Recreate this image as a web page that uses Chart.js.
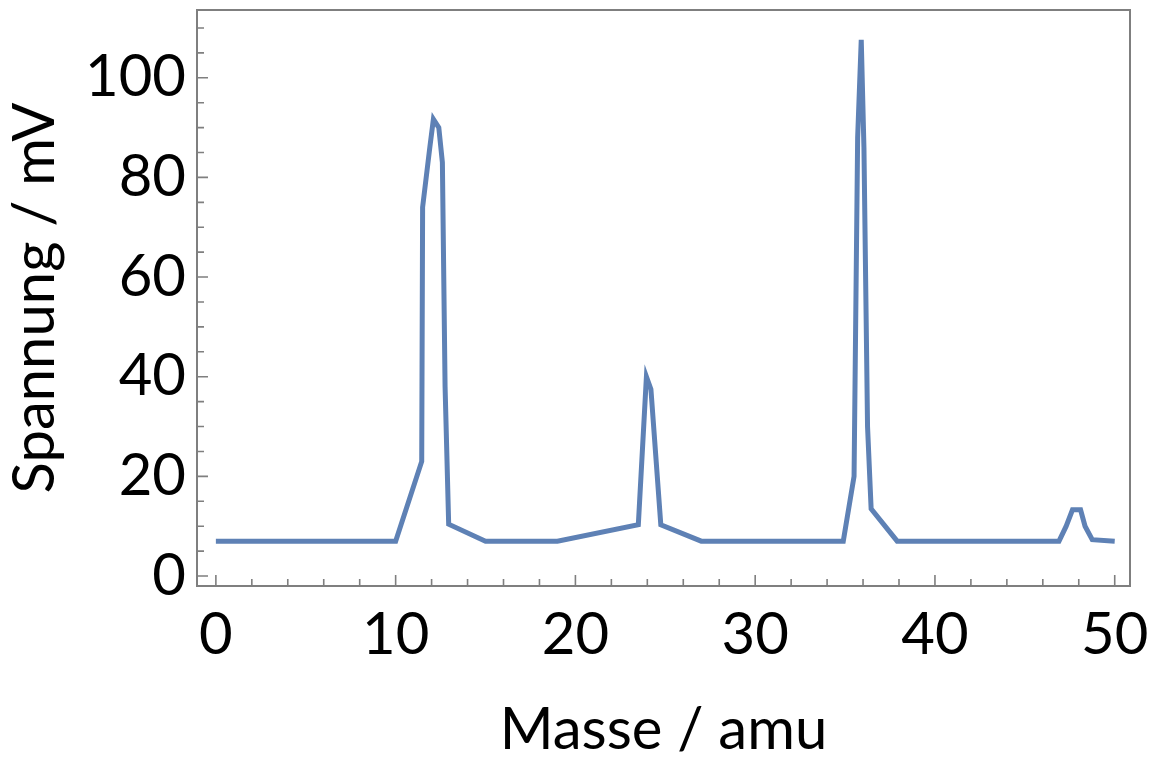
<!DOCTYPE html>
<html>
<head>
<meta charset="utf-8">
<script src="https://cdn.jsdelivr.net/npm/chart.js@4/dist/chart.umd.min.js"></script>
<style>
  html, body { margin: 0; padding: 0; background: #ffffff; }
  #wrap { width: 1152px; height: 765px; }
</style>
</head>
<body>
<div id="wrap"><canvas id="c" width="1152" height="765"></canvas></div>
<script>
// Data
const masses = [0, 10, 11.45, 11.5, 11.9, 12.1, 12.4, 12.6, 12.75, 12.95, 15, 19, 23.5, 23.95, 24.2, 24.75, 27, 34.9, 35.5, 35.7, 35.9, 36.05, 36.25, 36.45, 37.9, 46.9, 47.3, 47.65, 48.1, 48.35, 48.75, 50];
const voltages = [7, 7, 23, 74, 86, 91.7, 90, 83, 38, 10.4, 7, 7, 10.3, 40, 37.5, 10.3, 7, 7, 20, 88, 107.6, 86, 30, 13.5, 7, 7, 10, 13.3, 13.3, 10, 7.3, 7];

const xTicks = [0, 10, 20, 30, 40, 50];
const yTicks = [0, 20, 40, 60, 80, 100];
const xMinorTicks = [2, 4, 6, 8, 12, 14, 16, 18, 22, 24, 26, 28, 32, 34, 36, 38, 42, 44, 46, 48];
const yMinorTicks = [5, 10, 15, 25, 30, 35, 45, 50, 55, 65, 70, 75, 85, 90, 95, 105, 110];

const xTitle = 'Masse / amu';
const yTitle = 'Spannung / mV';

const FONT = "Lato, 'Open Sans', sans-serif";
const frameColor = '#7f7f7f';

const framePlugin = {
  id: 'frameTicks',
  afterDatasetsDraw(chart) {
    const ctx = chart.ctx;
    const a = chart.chartArea;
    const xs = chart.scales.x, ys = chart.scales.y;
    ctx.save();
    ctx.strokeStyle = frameColor;
    ctx.lineWidth = 2;
    ctx.strokeRect(a.left, a.top, a.right - a.left, a.bottom - a.top);
    ctx.lineWidth = 1.6;
    ctx.beginPath();
    xTicks.forEach(v => { const p = xs.getPixelForValue(v); ctx.moveTo(p, a.bottom); ctx.lineTo(p, a.bottom - 11); });
    xMinorTicks.forEach(v => { const p = xs.getPixelForValue(v); ctx.moveTo(p, a.bottom); ctx.lineTo(p, a.bottom - 7); });
    yTicks.forEach(v => { const p = ys.getPixelForValue(v); ctx.moveTo(a.left, p); ctx.lineTo(a.left + 11, p); });
    yMinorTicks.forEach(v => { const p = ys.getPixelForValue(v); ctx.moveTo(a.left, p); ctx.lineTo(a.left + 7, p); });
    ctx.stroke();
    ctx.restore();
  }
};

new Chart(document.getElementById('c'), {
  type: 'line',
  data: {
    datasets: [{
      data: masses.map((m, i) => ({ x: m, y: voltages[i] })),
      borderColor: '#5e81b5',
      borderWidth: 5,
      pointRadius: 0,
      tension: 0,
      fill: false
    }]
  },
  options: {
    responsive: false,
    animation: false,
    devicePixelRatio: 1,
    layout: { padding: { top: 10, right: 22, left: 0, bottom: 0 } },
    plugins: { legend: { display: false }, tooltip: { enabled: false } },
    scales: {
      x: {
        type: 'linear',
        min: -1.05,
        max: 50.85,
        afterFit(s) { s.height = 179; s.paddingLeft = 0; s.paddingRight = 0; },
        afterBuildTicks(s) { s.ticks = xTicks.map(v => ({ value: v })); },
        grid: { display: false, drawTicks: false },
        border: { display: false },
        ticks: {
          color: '#000',
          font: { family: FONT, size: 58 },
          padding: 14,
          maxRotation: 0,
          autoSkip: false
        },
        title: {
          display: true,
          text: xTitle,
          color: '#000',
          font: { family: FONT, size: 58 },
          padding: { top: 22, bottom: 0 }
        }
      },
      y: {
        type: 'linear',
        min: -2,
        max: 113.6,
        afterFit(s) { s.width = 197; s.paddingTop = 0; s.paddingBottom = 0; },
        afterBuildTicks(s) { s.ticks = yTicks.map(v => ({ value: v })); },
        grid: { display: false, drawTicks: false },
        border: { display: false },
        ticks: {
          color: '#000',
          font: { family: FONT, size: 58 },
          padding: 11
        },
        title: {
          display: true,
          text: yTitle,
          color: '#000',
          font: { family: FONT, size: 58 },
          padding: { top: 0, bottom: 0 }
        }
      }
    }
  },
  plugins: [framePlugin]
});
</script>
</body>
</html>
